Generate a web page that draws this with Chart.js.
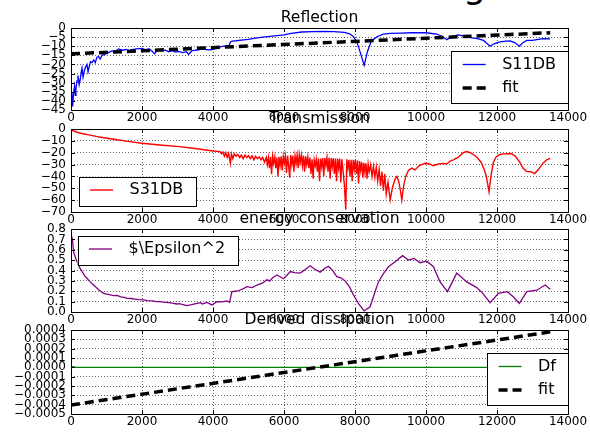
<!DOCTYPE html>
<html>
<head>
<meta charset="utf-8">
<script src="https://cdn.jsdelivr.net/npm/chart.js@4.4.0/dist/chart.umd.min.js"></script>
<style>
  body { margin: 0; background: #fff; width: 590px; height: 432px; overflow: hidden; position: relative; font-family: "DejaVu Sans", sans-serif; }
  canvas { position: absolute; left: 0; }
  #sup { position: absolute; left: 463px; top: -32px; font-size: 36px; line-height: 36px; color: #000; }
</style>
</head>
<body>
<div id="sup">g</div>
<canvas id="c1" width="590" height="128" style="top:0px"></canvas>
<canvas id="c2" width="590" height="129" style="top:101px"></canvas>
<canvas id="c3" width="590" height="129" style="top:201px"></canvas>
<canvas id="c4" width="590" height="130" style="top:302px"></canvas>
<script>
// x axis ticks (shared by all four panels)
const xTicks = [0, 2000, 4000, 6000, 8000, 10000, 12000, 14000];
const titles = ['Reflection', 'Transmission', 'energy conservation', 'Derived dissipation'];

// panel 1: reflection, [x, dB]
const s11 = [[0,-38],[20,-35],[45,-43],[70,-36],[100,-32],[120,-37],[140,-33],[170,-29],[197,-26],[230,-31],
  [262,-28],[290,-24],[310,-22],[340,-27],[383,-23],[420,-21],[450,-20],[480,-24],[515,-21],[550,-18.5],
  [590,-19],[640,-17.5],[685,-19],[730,-16],[777,-15.7],[820,-17],[872,-15],[940,-14.5],[1013,-13.9],[1080,-13.2],
  [1154,-12.6],[1250,-12.9],[1340,-11.5],[1450,-12.2],[1550,-11.8],[1650,-12.4],[1717,-11.9],[1850,-11.4],[2000,-11.2],[2100,-12.0],
  [2200,-11.5],[2280,-12.6],[2350,-14.2],[2450,-12.0],[2550,-12.5],[2655,-12.2],[2750,-13.0],[2850,-12.4],[2950,-13.2],[3030,-12.8],
  [3150,-13.5],[3250,-13.0],[3310,-14.5],[3400,-12.6],[3500,-12.2],[3600,-12.0],[3700,-11.5],[3800,-11.8],[3900,-12.0],[4000,-11.7],
  [4100,-11.0],[4200,-10.4],[4300,-10.0],[4400,-9.8],[4450,-9.5],[4500,-7.5],[4550,-7.2],[4650,-7.0],[4800,-6.6],[5000,-6.2],
  [5200,-5.6],[5400,-5.0],[5600,-4.6],[5800,-4.2],[6000,-3.8],[6200,-3.0],[6500,-2.2],[6800,-2.0],[7100,-1.9],[7400,-2.0],
  [7700,-2.4],[7850,-3.2],[7950,-4.6],[8050,-7.5],[8150,-13.5],[8257,-20.5],[8350,-13],[8450,-7.5],[8615,-4.8],[8800,-3.4],
  [8990,-3.0],[9300,-2.8],[9600,-2.6],[10000,-2.6],[10300,-3.3],[10450,-4.5],[10585,-6.4],[10700,-5.0],[10900,-3.8],[11100,-4.5],
  [11290,-5.4],[11450,-5.8],[11620,-6.8],[11720,-8.5],[11805,-10.0],[11900,-8.8],[12085,-7.6],[12250,-7.2],[12370,-7.1],[12500,-8.0],
  [12630,-10.0],[12720,-8.2],[12840,-6.8],[13000,-6.8],[13120,-6.4],[13300,-5.8],[13494,-6.0]];
const fit1 = [[0,-14.2],[13500,-2.6]];
const y1Range = [-45, 0, 5];

// panel 2: transmission, [x, dB]
const s31 = [[0,-0.8],[150,-2.5],[300,-3.8],[543,-5.2],[800,-6.8],[1200,-8.7],[1600,-10.4],[2000,-12],[2500,-13.5],[3060,-14.9],
  [3500,-16.4],[4000,-18.5],[4200,-19.1],[4240,-21],[4280,-19.5],[4320,-23],[4360,-20],[4400,-24],[4440,-20.5],[4490,-29],
  [4520,-21],[4560,-25],[4600,-21],[4650,-23],[4700,-21.5],[4750,-24],[4800,-22],[4850,-25],[4900,-22],[4950,-24],
  [5000,-22.5],[5050,-25],[5100,-22.5],[5150,-26],[5200,-23],[5250,-25],[5300,-23.5],[5350,-26],[5400,-24],[5450,-28],
  [5500,-24],[5530,-30],[5560,-24],[5590,-33],[5620,-23.5],[5650,-38],[5680,-23],[5710,-29],[5740,-23.5],[5770,-33],
  [5800,-24],[5830,-40],[5860,-23.5],[5890,-31],[5920,-23],[5950,-35],[5980,-23],[6010,-29],[6040,-23],[6070,-37],
  [6100,-22.5],[6130,-31],[6160,-41],[6190,-22],[6220,-30],[6250,-22.5],[6280,-36],[6310,-22.5],[6340,-29],[6370,-22],
  [6400,-33],[6430,-21.5],[6460,-28],[6490,-22],[6520,-31],[6550,-22.5],[6580,-36],[6610,-23],[6640,-30],[6670,-23.5],
  [6700,-33],[6730,-24],[6760,-38],[6790,-25.5],[6820,-42],[6850,-26],[6880,-31],[6910,-25.5],[6940,-36],[6970,-25],
  [7000,-44],[7030,-25],[7060,-32],[7090,-24.5],[7120,-40],[7150,-24.5],[7180,-31],[7210,-24],[7240,-36],[7270,-24],
  [7300,-42],[7330,-24.5],[7360,-32],[7390,-24.5],[7420,-38],[7450,-25],[7480,-44],[7510,-25],[7540,-33],[7570,-25],
  [7600,-45],[7630,-25.5],[7660,-34],[7700,-47],[7740,-68],[7770,-25.5],[7800,-33],[7830,-26],[7860,-40],[7890,-26],
  [7920,-44],[7950,-26],[7980,-34],[8010,-26],[8040,-38],[8070,-26.5],[8100,-46],[8130,-27],[8160,-35],[8190,-28],
  [8220,-41],[8250,-28.5],[8280,-37],[8310,-29],[8340,-42],[8370,-29.5],[8400,-36],[8440,-30],[8480,-40],[8520,-31.5],
  [8560,-41],[8600,-32],[8640,-44],[8680,-34],[8720,-48],[8760,-36],[8800,-52],[8840,-38],[8880,-55],[8930,-45],
  [8990,-60],[9050,-50],[9130,-42],[9180,-40],[9230,-44],[9280,-52],[9318,-60],[9370,-48],[9430,-40],[9505,-35],
  [9600,-33],[9690,-34.5],[9800,-31],[9970,-28.9],[10100,-29.5],[10200,-31],[10350,-29.5],[10480,-29],[10580,-29.5],[10680,-27],
  [10770,-26],[10900,-24],[11050,-20],[11140,-19],[11250,-20],[11420,-23.4],[11550,-28],[11650,-35],[11700,-40],[11775,-53],
  [11810,-44],[11840,-38],[11900,-28],[11980,-23.4],[12080,-21.5],[12170,-21],[12400,-20.7],[12520,-23],[12640,-28],[12730,-33],
  [12830,-35.7],[12950,-36],[13060,-37.6],[13170,-34],[13290,-29],[13400,-26],[13500,-24.7]];
const y2Range = [-70, 0, 10];

// panel 3: energy conservation
const eps = [[0,0.75],[40,0.7],[73,0.58],[120,0.53],[169,0.485],[240,0.43],[310,0.39],[380,0.35],[450,0.325],[540,0.29],
  [636,0.26],[780,0.215],[918,0.18],[1050,0.17],[1200,0.157],[1300,0.16],[1400,0.145],[1500,0.14],[1577,0.132],[1700,0.13],
  [1800,0.125],[1900,0.12],[2044,0.116],[2150,0.11],[2300,0.108],[2400,0.1],[2514,0.1],[2600,0.095],[2750,0.09],[2850,0.085],
  [2984,0.077],[3050,0.08],[3150,0.072],[3266,0.061],[3400,0.07],[3547,0.084],[3650,0.09],[3700,0.078],[3829,0.093],[3970,0.068],
  [4110,0.1],[4250,0.098],[4392,0.106],[4467,0.093],[4532,0.196],[4650,0.2],[4766,0.212],[4860,0.225],[4954,0.244],[5100,0.235],
  [5240,0.26],[5400,0.28],[5520,0.31],[5600,0.3],[5680,0.33],[5800,0.357],[5990,0.32],[6180,0.39],[6300,0.38],[6455,0.375],
  [6600,0.41],[6737,0.446],[6880,0.41],[7018,0.384],[7140,0.42],[7253,0.44],[7370,0.4],[7487,0.34],[7600,0.33],[7722,0.30],
  [7850,0.24],[7957,0.164],[8100,0.08],[8257,0.01],[8426,0.05],[8550,0.18],[8660,0.29],[8800,0.37],[8942,0.437],[9130,0.485],
  [9336,0.543],[9505,0.50],[9665,0.517],[9834,0.475],[10022,0.49],[10210,0.437],[10397,0.29],[10604,0.196],[10866,0.375],[11147,0.29],
  [11429,0.235],[11600,0.18],[11805,0.09],[12040,0.18],[12290,0.196],[12450,0.15],[12630,0.083],[12840,0.196],[13120,0.21],[13360,0.26],
  [13500,0.22]];
const y3Range = [0, 0.8, 0.1];

// panel 4: derived dissipation
const df = [[0,0.00001],[150,0.0],[13500,0.0]];
const fit4 = [[0,-0.000404],[13500,0.00038]];
const y4Range = [-0.0005, 0.0004, 0.0001];

Chart.defaults.font.family = '"DejaVu Sans", sans-serif';
Chart.defaults.font.size = 12;
Chart.defaults.color = '#000';

const MINUS = '\u2212';
function fmt(v, d) {
  if (Math.abs(v) < 1e-12) v = 0;
  const s = v.toFixed(d);
  return s.startsWith('-') ? MINUS + s.slice(1) : s;
}

const mplFrame = {
  id: 'mplFrame',
  afterDatasetsDraw(chart, args, opts) {
    const { ctx, chartArea: a, scales } = chart;
    ctx.save();
    ctx.strokeStyle = '#000';
    ctx.lineWidth = 1;
    ctx.beginPath();
    scales.x.ticks.forEach(t => {
      const px = Math.round(scales.x.getPixelForValue(t.value)) + 0.5;
      ctx.moveTo(px, a.top); ctx.lineTo(px, a.top + 4);
      ctx.moveTo(px, a.bottom); ctx.lineTo(px, a.bottom - 4);
    });
    scales.y.ticks.forEach(t => {
      const py = Math.round(scales.y.getPixelForValue(t.value)) + 0.5;
      ctx.moveTo(a.left, py); ctx.lineTo(a.left + 4, py);
      ctx.moveTo(a.right, py); ctx.lineTo(a.right - 4, py);
    });
    ctx.stroke();
    ctx.strokeRect(Math.round(a.left) + 0.5, Math.round(a.top) + 0.5, Math.round(a.right - a.left), Math.round(a.bottom - a.top));
    ctx.fillStyle = '#000';
    ctx.font = '15.6px "DejaVu Sans"';
    ctx.textAlign = 'center';
    ctx.textBaseline = 'alphabetic';
    ctx.fillText(opts.text, (a.left + a.right) / 2, a.top - 6);
    ctx.restore();
  }
};

const mplLegend = {
  id: 'mplLegend',
  afterDraw(chart, args, opts) {
    const { ctx, chartArea: a } = chart;
    const items = chart.data.datasets;
    ctx.save();
    ctx.font = '16px "DejaVu Sans"';
    const tw = Math.max(...items.map(d => ctx.measureText(d.label).width));
    const w = 11.5 + 23 + 16.5 + tw + 12;
    const h = 13 + 23.5 * (items.length - 1) + 15.5;
    const x = opts.side === 'right' ? a.right - opts.dx - w : a.left + opts.dx;
    const y = opts.vert === 'bottom' ? a.bottom - opts.dy - h : a.top + opts.dy;
    ctx.fillStyle = '#fff';
    ctx.fillRect(x, y, w, h);
    ctx.strokeStyle = '#000';
    ctx.lineWidth = 1;
    ctx.strokeRect(Math.round(x) + 0.5, Math.round(y) + 0.5, Math.round(w), Math.round(h));
    items.forEach((d, i) => {
      const cy = y + 13.5 + 23.5 * i;
      ctx.strokeStyle = d.borderColor;
      ctx.lineWidth = d.borderWidth;
      ctx.setLineDash(d.borderDash || []);
      ctx.beginPath();
      ctx.moveTo(x + 11.5, cy); ctx.lineTo(x + 34.5, cy);
      ctx.stroke();
      ctx.setLineDash([]);
      ctx.fillStyle = '#000';
      ctx.textAlign = 'left';
      ctx.textBaseline = 'middle';
      ctx.fillText(d.label, x + 51, cy);
    });
    ctx.restore();
  }
};

function line(label, pts, color, extra) {
  return Object.assign({
    label: label,
    data: pts.map(p => ({ x: p[0], y: p[1] })),
    borderColor: color,
    borderWidth: 1.3,
    pointRadius: 0,
    fill: false,
    tension: 0
  }, extra || {});
}

function makeChart(id, title, datasets, yr, dec, legend) {
  return new Chart(document.getElementById(id), {
    type: 'line',
    data: { datasets: datasets },
    plugins: [mplFrame, mplLegend],
    options: {
      responsive: false,
      animation: false,
      events: [],
      layout: { padding: { top: 28, right: 22, left: 0, bottom: 0 } },
      scales: {
        x: {
          type: 'linear', min: 0, max: 14000,
          afterFit(s) { s.height = 18; },
          afterBuildTicks(s) { s.ticks = xTicks.map(v => ({ value: v })); },
          ticks: { autoSkip: false, maxRotation: 0, padding: 1, callback: v => String(v) },
          grid: { color: 'rgba(0,0,0,0.6)', drawTicks: false },
          border: { display: false, dash: [1, 2] }
        },
        y: {
          min: yr[0], max: yr[1],
          afterFit(s) { s.width = 71; },
          ticks: { autoSkip: false, stepSize: yr[2], padding: 5, callback: v => fmt(v, dec) },
          grid: { color: 'rgba(0,0,0,0.6)', drawTicks: false },
          border: { display: false, dash: [1, 2] }
        }
      },
      plugins: {
        legend: { display: false },
        tooltip: { enabled: false },
        mplFrame: { text: title },
        mplLegend: legend
      }
    }
  });
}

const fitStyle = { borderWidth: 3.5, borderDash: [9, 5], order: 0 };

makeChart('c1', titles[0], [
  line('S11DB', s11, '#0000ff', { order: 1 }),
  line('fit', fit1, '#000000', fitStyle)
], y1Range, 0, { side: 'right', vert: 'bottom', dx: 0, dy: 7 });

makeChart('c2', titles[1], [
  line('S31DB', s31, '#ff0000', { borderWidth: 1.4 })
], y2Range, 0, { side: 'left', vert: 'bottom', dx: 7.5, dy: 7 });

makeChart('c3', titles[2], [
  line('$\\Epsilon^2', eps, '#800080')
], y3Range, 1, { side: 'left', vert: 'top', dx: 6.5, dy: 6.5 });

makeChart('c4', titles[3], [
  line('Df', df, '#008000', { order: 1 }),
  line('fit', fit4, '#000000', fitStyle)
], y4Range, 4, { side: 'right', vert: 'bottom', dx: 0, dy: 9 });
</script>
</body>
</html>
